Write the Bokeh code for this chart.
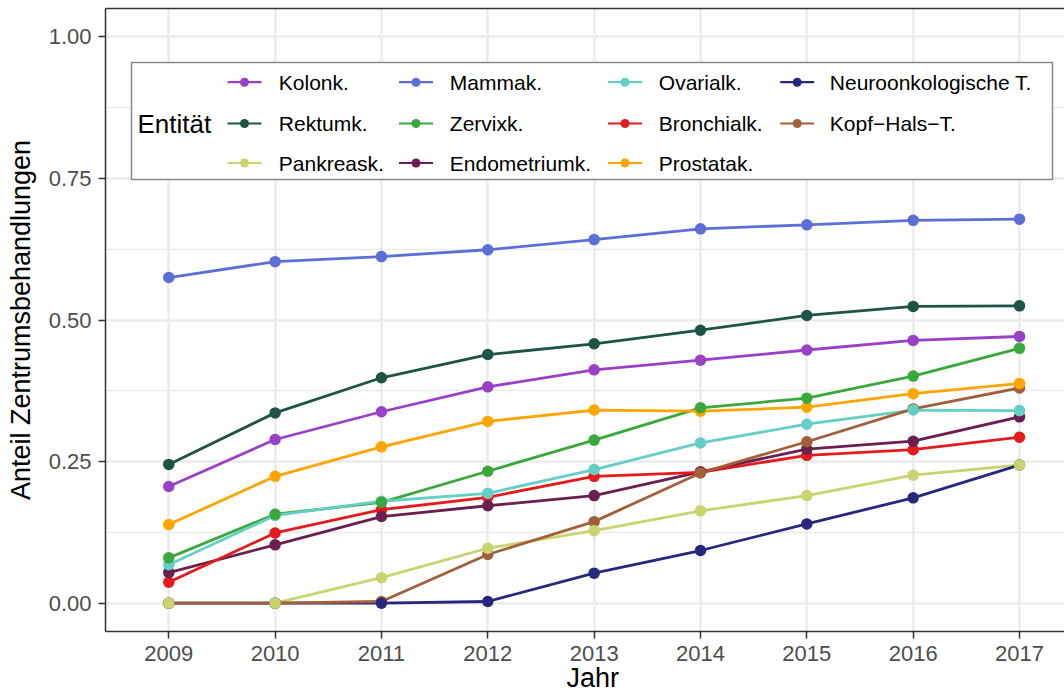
from bokeh.plotting import figure
from bokeh.models import FixedTicker, NumeralTickFormatter, LinearAxis, Range1d, Title
from bokeh.core.properties import value
from bokeh.embed import file_html
from bokeh.resources import INLINE

# --- data: share of treatments in certified centres, per tumour entity ---
years = [2009, 2010, 2011, 2012, 2013, 2014, 2015, 2016, 2017]

kolon       = [0.206, 0.289, 0.338, 0.382, 0.412, 0.429, 0.447, 0.464, 0.471]
rektum      = [0.245, 0.336, 0.398, 0.439, 0.458, 0.482, 0.508, 0.524, 0.525]
pankreas    = [0.000, 0.000, 0.045, 0.097, 0.128, 0.163, 0.190, 0.226, 0.244]
mamma       = [0.575, 0.603, 0.612, 0.624, 0.642, 0.661, 0.668, 0.676, 0.678]
zervix      = [0.080, 0.157, 0.178, 0.233, 0.288, 0.345, 0.362, 0.401, 0.450]
endometrium = [0.054, 0.103, 0.153, 0.172, 0.190, 0.232, 0.272, 0.286, 0.329]
ovarial     = [0.068, 0.155, 0.180, 0.194, 0.236, 0.283, 0.316, 0.341, 0.340]
bronchial   = [0.037, 0.124, 0.165, 0.187, 0.224, 0.231, 0.261, 0.271, 0.293]
prostata    = [0.139, 0.224, 0.276, 0.321, 0.341, 0.339, 0.346, 0.370, 0.388]
neuro       = [0.000, 0.000, 0.000, 0.003, 0.053, 0.093, 0.140, 0.186, 0.244]
kopf_hals   = [0.000, 0.000, 0.003, 0.086, 0.144, 0.230, 0.285, 0.343, 0.380]

# legend order (column-major, 3 rows)
labels = ["Kolonk.", "Rektumk.", "Pankreask.",
          "Mammak.", "Zervixk.", "Endometriumk.",
          "Ovarialk.", "Bronchialk.", "Prostatak.",
          "Neuroonkologische T.", "Kopf\u2212Hals\u2212T."]
series = [kolon, rektum, pankreas, mamma, zervix, endometrium,
          ovarial, bronchial, prostata, neuro, kopf_hals]
colors = ["#9a3fc7", "#1d5446", "#c9d46e",
          "#5b6fd6", "#3aa83a", "#6a1f4f",
          "#64cfc5", "#e41a1c", "#ffa500",
          "#27277d", "#a35f3a"]

y_ticks = [0.0, 0.25, 0.5, 0.75, 1.0]
y_minor = [0.125, 0.375, 0.625, 0.875]

# --- geometry ---
W, H = 1064, 694
FL, FT, FB, FR = 105, 8, 631, 1064
X0, X1 = 2008.405, 2017.423
Y0, Y1 = -0.05, 1.05

def dx(px):
    return X0 + (px - FL) / (FR - FL) * (X1 - X0)

def dy(py):
    return Y1 - (py - FT) / (FB - FT) * (Y1 - Y0)

FONT = "Liberation Sans"

p = figure(width=W, height=H, output_backend="svg", toolbar_location=None,
           x_range=Range1d(X0, X1), y_range=Range1d(Y0, Y1),
           min_border_left=FL, min_border_right=0, min_border_top=FT,
           min_border_bottom=H - FB, outline_line_color=None,
           background_fill_color="white", border_fill_color="white")

# axes
p.xaxis.ticker = FixedTicker(ticks=years)
p.yaxis.ticker = FixedTicker(ticks=y_ticks, minor_ticks=y_minor)
p.yaxis.formatter = NumeralTickFormatter(format="0.00")
for ax in (p.xaxis[0], p.yaxis[0]):
    ax.axis_line_color = "#333333"
    ax.axis_line_width = 1.5
    ax.major_tick_line_color = "#333333"
    ax.major_tick_line_width = 1.5
    ax.major_tick_in = 0
    ax.major_tick_out = 7
    ax.minor_tick_line_color = None
    ax.major_label_text_font = FONT
    ax.major_label_text_font_size = "22px"
    ax.major_label_text_color = "#4d4d4d"
    ax.axis_label_text_font = FONT
    ax.axis_label_text_font_size = "27px"
    ax.axis_label_text_font_style = "normal"
    ax.axis_label_text_color = "black"
p.yaxis.axis_label = "Anteil Zentrumsbehandlungen"
p.xaxis.major_label_standoff = 7
p.yaxis.major_label_standoff = 7
p.yaxis.axis_label_standoff = 10

# x-axis title, set under the middle year (offset in px from the frame's left edge)
x_title = Title(text="Jahr", align="left", offset=461, standoff=-5,
                text_font=FONT, text_font_size="27px", text_font_style="normal",
                text_color="black")
p.add_layout(x_title, "below")

# top panel border (no ticks, no labels)
top = LinearAxis(ticker=FixedTicker(ticks=[]), axis_line_color="#333333",
                 axis_line_width=1.5, major_tick_line_color=None,
                 minor_tick_line_color=None, major_label_standoff=0)
p.add_layout(top, "above")

# grid
p.xgrid.grid_line_color = "#ebebeb"
p.xgrid.grid_line_width = 2.5
p.ygrid.grid_line_color = "#ebebeb"
p.ygrid.grid_line_width = 2.5
p.ygrid.minor_grid_line_color = "#ebebeb"
p.ygrid.minor_grid_line_width = 1.3

# lines first (legend order), then points (alphabetical order)
for vals, col in zip(series, colors):
    p.line(years, vals, line_color=col, line_width=2.8)
order = sorted(range(len(labels)), key=lambda i: labels[i])
for i in order:
    p.scatter(years, series[i], size=11.5, fill_color=colors[i], line_color=None)

# --- legend box ---
p.quad(left=[dx(131)], right=[dx(1052)], top=[dy(62)], bottom=[dy(179)],
       fill_color="white", line_color="#8a8a8a", line_width=1.5)
p.text(x=[dx(137)], y=[dy(123)], text=["Entit\u00e4t"], text_font=value(FONT),
       text_font_size="26px", text_baseline="middle", text_align="left",
       text_color="black")

key_cx = [244, 415.5, 624.5, 796.7]
text_x = [278.3, 449.3, 658.3, 829.3]
rows_y = [81.7, 123.0, 162.5]
for i, (lab, col) in enumerate(zip(labels, colors)):
    c, r = divmod(i, 3)
    ky = dy(rows_y[r])
    p.segment(x0=[dx(key_cx[c] - 17)], x1=[dx(key_cx[c] + 17)], y0=[ky], y1=[ky],
              line_color=col, line_width=2.2)
    p.scatter([dx(key_cx[c])], [ky], size=9, fill_color=col, line_color=None)
    p.text(x=[dx(text_x[c])], y=[ky], text=[lab], text_font=value(FONT),
           text_font_size="21px", text_baseline="middle", text_align="left",
           text_color="black")

open("out.html", "w").write(file_html(p, INLINE))
